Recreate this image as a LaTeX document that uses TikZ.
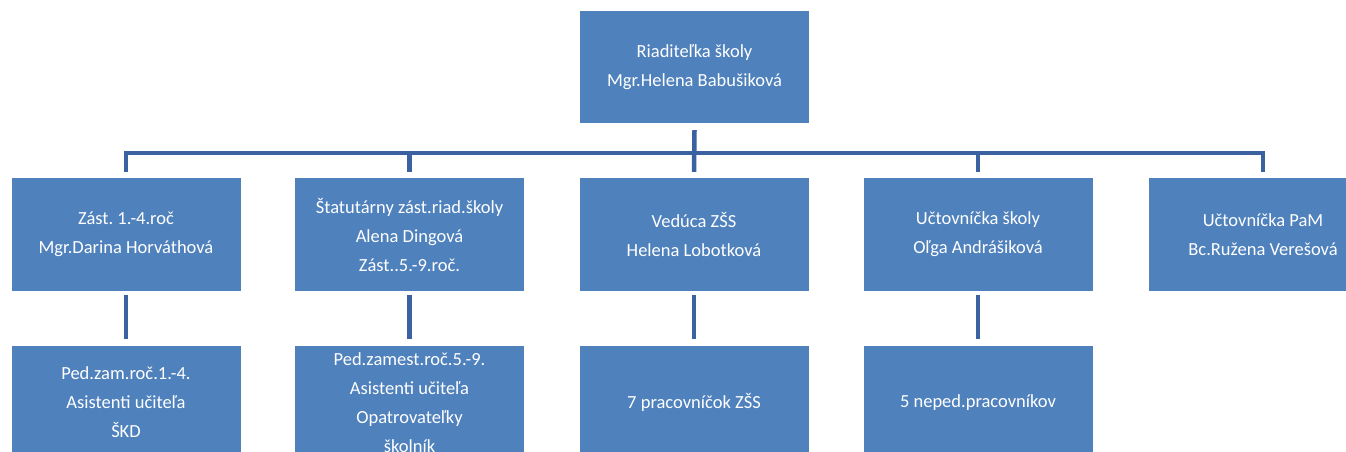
\documentclass[tikz,border=0pt]{standalone}
\usepackage{fontspec}
\setmainfont{Carlito}
\frenchspacing
\definecolor{boxblue}{HTML}{4F81BD}
\definecolor{linkblue}{HTML}{3A62A0}
\begin{document}
\begin{tikzpicture}[x=1pt,y=1pt,
  orgbox/.style={fill=boxblue, draw=none, text=white, minimum width=229pt, minimum height=113pt,
    inner sep=0pt, align=center, font=\fontsize{18.5}{29}\selectfont},
  conn/.style={draw=linkblue, line width=4.5pt}]
\useasboundingbox (0,0) rectangle (1346,-452);
\clip (0,0) rectangle (1346,-452);
\fill[white] (0,0) rectangle (1346,-452);
% top
\node[orgbox, minimum height=112pt] (top) at (694.5,-67) {Riaditeľka školy\\Mgr.Helena Babušiková};
% second row
\node[orgbox] (c1) at (126,-234.5) {Zást. 1.-4.roč\\Mgr.Darina Horváthová};
\node[orgbox] (c2) at (409.5,-234.5) {Štatutárny zást.riad.školy\\Alena Dingová\\Zást..5.-9.roč.};
\node[orgbox] (c3) at (694,-234.5) {Vedúca ZŠS\\Helena Lobotková};
\node[orgbox] (c4) at (978,-234.5) {Učtovníčka školy\\Oľga Andrášiková};
\node[orgbox] (c5) at (1263,-234.5) {Učtovníčka PaM\\Bc.Ružena Verešová};
% third row
\node[orgbox] (d1) at (126,-402.5) {Ped.zam.roč.1.-4.\\Asistenti učiteľa\\ŠKD};
\node[orgbox] (d2) at (409.5,-402.5) {Ped.zamest.roč.5.-9.\\Asistenti učiteľa\\Opatrovateľky\\školník};
\node[orgbox] (d3) at (694,-402.5) {7 pracovníčok ZŠS};
\node[orgbox] (d4) at (978,-402.5) {5 neped.pracovníkov};
% connectors
\draw[conn] ([yshift=-7pt]top.south) -- ([yshift=6pt]c3.north);
\draw[conn] ([yshift=6pt]c1.north) -- ++(0,19) -| ([yshift=6pt]c5.north);
\draw[conn] ([yshift=6pt]c2.north) -- ++(0,19);
\draw[conn] ([yshift=6pt]c4.north) -- ++(0,19);
\draw[conn] ([yshift=-4pt]c1.south) -- ([yshift=7pt]d1.north);
\draw[conn] ([yshift=-4pt]c2.south) -- ([yshift=7pt]d2.north);
\draw[conn] ([yshift=-4pt]c3.south) -- ([yshift=7pt]d3.north);
\draw[conn] ([yshift=-4pt]c4.south) -- ([yshift=7pt]d4.north);
\end{tikzpicture}
\end{document}
